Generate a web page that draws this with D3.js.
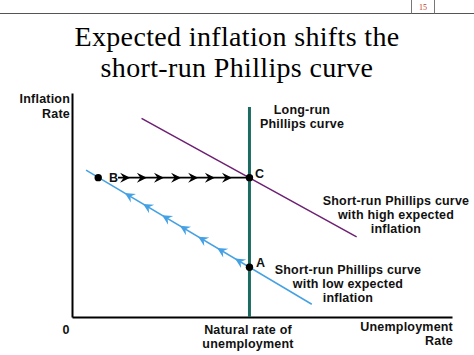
<!DOCTYPE html>
<html><head><meta charset="utf-8">
<script src="https://cdn.jsdelivr.net/npm/d3@7"></script>
<style>
html,body{margin:0;padding:0;background:#fff;}
svg{display:block;}
.lbl{font-family:"Liberation Sans",Arial,sans-serif;font-weight:bold;font-size:12.5px;letter-spacing:0.2px;fill:#111;}
.title{font-family:"Liberation Serif","Times New Roman",serif;font-size:28px;letter-spacing:0.35px;fill:#000;}
</style></head>
<body>
<script>
// ---- data (economics units: unemployment %, inflation %) ----
const naturalRate = 4.67;
const lrpcTop = 9.375;
const srpcLow = [[0.37, 6.56], [6.31, 0.57]];   // short-run Phillips curve, low expected inflation
const srpcHigh = [[1.83, 8.87], [7.49, 3.58]];  // short-run Phillips curve, high expected inflation
const pointA = [4.67, 2.22];
const pointB = [0.69, 6.22];
const pointC = [4.67, 6.22];
const pathBtoC_start = 1.21;                    // arrow line from B label to C
const blackArrowX = [1.53, 1.97, 2.42, 2.87, 3.32, 3.76, 4.21];
const blueArrowX = [1.39, 1.87, 2.37, 2.84, 3.32, 3.82, 4.29];
const titleLines = ["Expected inflation shifts the", "short-run Phillips curve"];

const W = 474, H = 355;
const svg = d3.select("body").append("svg").attr("width", W).attr("height", H);

const x = d3.scaleLinear().domain([0, 10]).range([72, 452]);
const y = d3.scaleLinear().domain([0, 10]).range([317, 93]);

// slide header
svg.append("line").attr("x1", 0).attr("x2", W).attr("y1", 13.5).attr("y2", 13.5).attr("stroke", "#555").attr("stroke-width", 1);
svg.append("line").attr("x1", 411.5).attr("x2", 411.5).attr("y1", 0).attr("y2", 13.5).attr("stroke", "#777").attr("stroke-width", 1);
svg.append("line").attr("x1", 434.5).attr("x2", 434.5).attr("y1", 0).attr("y2", 13.5).attr("stroke", "#777").attr("stroke-width", 1);
svg.append("text").attr("x", 423).attr("y", 10).attr("text-anchor", "middle")
  .style("font-family", "Liberation Serif, serif").style("font-size", "8px").attr("fill", "#c0392b").text("15");

// title
svg.selectAll("text.title").data(titleLines).join("text").attr("class", "title")
  .attr("x", 237).attr("y", (d, i) => 45.5 + i * 31).attr("text-anchor", "middle").text(d => d);

// axes
const xAxis = d3.axisBottom(x).tickValues([]).tickSizeOuter(0);
const yAxis = d3.axisLeft(y).tickValues([]).tickSizeOuter(0);
svg.append("g").attr("transform", `translate(0,${y(0)})`).call(xAxis)
  .select(".domain").attr("stroke", "#000").attr("stroke-width", 2);
svg.append("g").attr("transform", `translate(${x(0)},0)`).call(yAxis)
  .select(".domain").attr("stroke", "#000").attr("stroke-width", 2);

const line = d3.line().x(d => x(d[0])).y(d => y(d[1]));

// long-run Phillips curve
svg.append("path").attr("d", line([[naturalRate, 0], [naturalRate, lrpcTop]]))
  .attr("stroke", "#1c6b60").attr("stroke-width", 3).attr("fill", "none");

// short-run curves
svg.append("path").attr("d", line(srpcHigh)).attr("stroke", "#6d1f72").attr("stroke-width", 1.5).attr("fill", "none");
svg.append("path").attr("d", line(srpcLow)).attr("stroke", "#45a1e3").attr("stroke-width", 1.5).attr("fill", "none");

// B -> C arrow path
svg.append("path").attr("d", line([[pathBtoC_start, pointB[1]], [pointC[0], pointC[1]]]))
  .attr("stroke", "#000").attr("stroke-width", 1.6).attr("fill", "none");

const head = "M0,0 L-10,-5 L-6.5,0 L-10,5 Z";
svg.selectAll("path.bh").data(blackArrowX).join("path").attr("class", "bh")
  .attr("d", head).attr("fill", "#000")
  .attr("transform", d => `translate(${x(d)},${y(pointB[1])})`);

// blue arrows along low curve, pointing up-left
const lowInterp = xv => srpcLow[0][1] + (xv - srpcLow[0][0]) * (srpcLow[1][1] - srpcLow[0][1]) / (srpcLow[1][0] - srpcLow[0][0]);
const ang = Math.atan2(y(srpcLow[0][1]) - y(srpcLow[1][1]), x(srpcLow[0][0]) - x(srpcLow[1][0])) * 180 / Math.PI;
svg.selectAll("path.blh").data(blueArrowX).join("path").attr("class", "blh")
  .attr("d", head).attr("fill", "#45a1e3")
  .attr("transform", d => `translate(${x(d)},${y(lowInterp(d))}) rotate(${ang})`);

// points
svg.selectAll("circle.pt").data([pointA, pointB, pointC]).join("circle").attr("class", "pt")
  .attr("cx", d => x(d[0])).attr("cy", d => y(d[1])).attr("r", 3.7).attr("fill", "#000");

// labels
function lbl(lines, xp, yp, anchor, dy = 14) {
  const t = svg.append("text").attr("class", "lbl").attr("text-anchor", anchor);
  lines.forEach((s, i) => t.append("tspan").attr("x", xp).attr("y", yp + i * dy).text(s));
}
lbl(["Inflation", "Rate"], 70, 102.5, "end", 15);
lbl(["Long-run", "Phillips curve"], 302, 113.5, "middle", 14);
lbl(["C"], 255, 177.5, "start");
lbl(["B"], 109, 182, "start");
lbl(["A"], 256, 266.5, "start");
lbl(["Short-run Phillips curve", "with high expected", "inflation"], 396, 204.5, "middle", 14);
lbl(["Short-run Phillips curve", "with low expected", "inflation"], 348, 274, "middle", 14);
lbl(["0"], 66, 333.5, "middle");
lbl(["Natural rate of", "unemployment"], 248, 333.5, "middle", 14);
lbl(["Unemployment", "Rate"], 453, 330.5, "end", 14);
</script>
</body></html>
